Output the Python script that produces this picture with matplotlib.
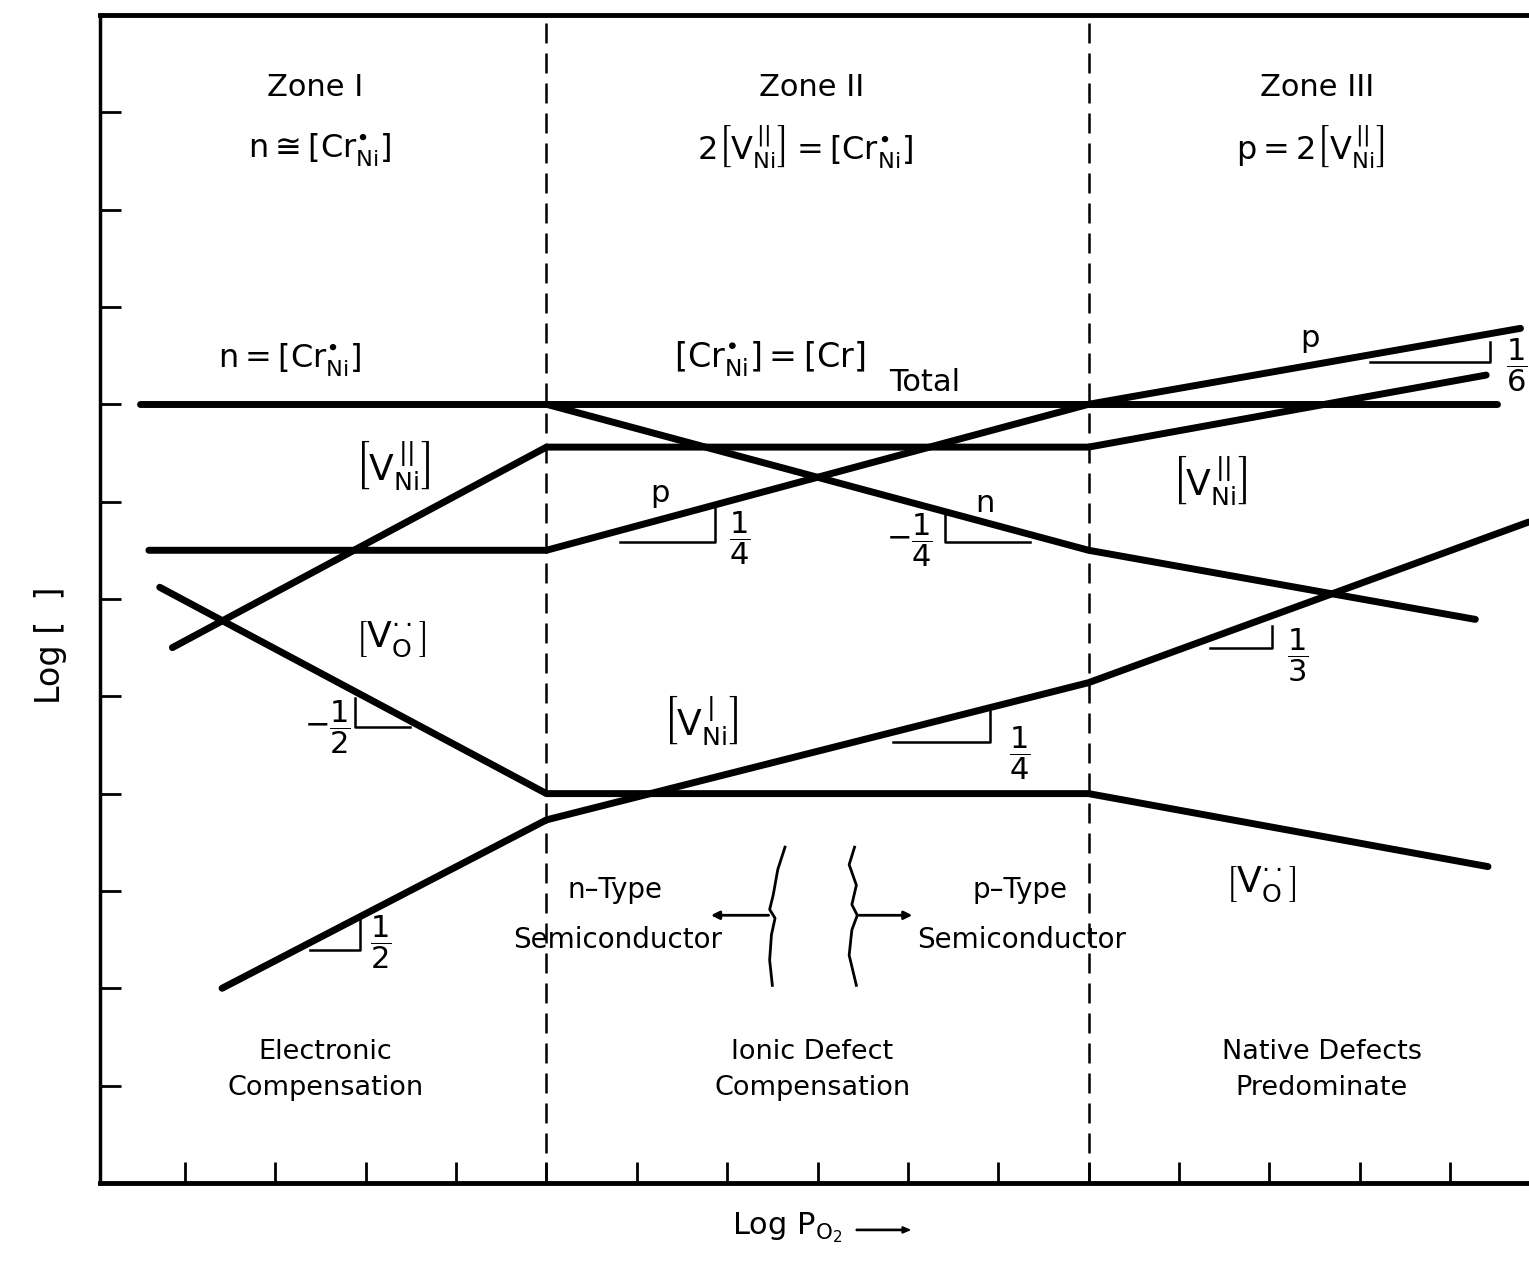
import numpy as np
import matplotlib
matplotlib.use("Agg")
import matplotlib.pyplot as plt

plt.rcParams['font.family'] = ['DejaVu Sans']
plt.rcParams['mathtext.default'] = 'regular'

# defect concentrations, log units vs log pO2 (zone edges at 5 and 11)
zone_edges = [5, 11]

cr_total_x = [0.50, 15.52]
cr_total_y = [8.0, 8.0]

v2ni_x = [0.86, 5.0, 11.0, 15.40]
v2ni_y = [5.50, 7.56, 7.56, 8.30]

p_x = [0.60, 5.0, 11.0, 15.78]
p_y = [6.50, 6.50, 8.00, 8.78]

n_x = [5.0, 11.0, 15.28]
n_y = [8.00, 6.50, 5.79]

vo_x = [0.72, 5.0, 11.0, 15.42]
vo_y = [6.12, 4.00, 4.00, 3.25]

v1ni_x = [1.41, 5.0, 11.0, 15.87]
v1ni_y = [2.00, 3.73, 5.14, 6.79]

# slope markers: (x points, y points, label, label x, label y)
slope_marks = [
    ([5.81, 6.87, 6.87], [6.58, 6.58, 6.93], r'$\dfrac{1}{4}$', 7.14, 6.62),
    ([9.41, 9.41, 10.35], [6.88, 6.58, 6.58], r'$-\dfrac{1}{4}$', 9.02, 6.60),
    ([2.88, 2.88, 3.49], [4.98, 4.68, 4.68], r'$-\dfrac{1}{2}$', 2.58, 4.68),
    ([2.38, 2.94, 2.94], [2.39, 2.39, 2.72], r'$\dfrac{1}{2}$', 3.17, 2.47),
    ([8.84, 9.91, 9.91], [4.53, 4.53, 4.86], r'$\dfrac{1}{4}$', 10.24, 4.42),
    ([12.34, 13.03, 13.03], [5.50, 5.50, 5.72], r'$\dfrac{1}{3}$', 13.31, 5.42),
    ([14.11, 15.44, 15.44], [8.43, 8.43, 8.64], r'$\dfrac{1}{6}$', 15.74, 8.40),
]

# wavy dividers between n-type and p-type
brace_l_x = [7.64, 7.56, 7.51, 7.47, 7.53, 7.49, 7.47, 7.50]
brace_l_y = [3.45, 3.22, 2.96, 2.81, 2.72, 2.55, 2.29, 2.03]
brace_r_x = [8.41, 8.35, 8.43, 8.38, 8.44, 8.38, 8.35, 8.43]
brace_r_y = [3.45, 3.27, 3.06, 2.86, 2.75, 2.60, 2.34, 2.03]

V2 = r'\left[V_{Ni}^{\,||}\right]'
V1 = r'\left[V_{Ni}^{\,|}\right]'
CR = r'\left[Cr_{Ni}^{\bullet}\right]'
VO = r'\left[V_{O}^{\cdot\cdot}\right]'

fig = plt.figure(figsize=(15.29, 12.66), dpi=100)
ax = fig.add_axes([0.0654, 0.0656, 0.9346, 0.9226])
ax.set_xlim(0.059, 15.874)
ax.set_ylim(0, 12.0)

lw = 5.0
for xs, ys in [(cr_total_x, cr_total_y), (v2ni_x, v2ni_y), (p_x, p_y),
               (n_x, n_y), (vo_x, vo_y), (v1ni_x, v1ni_y)]:
    ax.plot(xs, ys, color='black', lw=lw, solid_capstyle='round')

for xe in zone_edges:
    ax.axvline(xe, color='black', lw=1.8, dashes=(8, 4))

for xs, ys, lab, lx, ly in slope_marks:
    ax.plot(xs, ys, color='black', lw=1.8)
    ax.text(lx, ly, lab, fontsize=22, ha='center', va='center')

ax.plot(brace_l_x, brace_l_y, color='black', lw=2)
ax.plot(brace_r_x, brace_r_y, color='black', lw=2)
ax.annotate('', xy=(6.79, 2.75), xytext=(7.49, 2.75),
            arrowprops=dict(arrowstyle='-|>', color='black', lw=2, mutation_scale=12))
ax.annotate('', xy=(9.08, 2.75), xytext=(8.43, 2.75),
            arrowprops=dict(arrowstyle='-|>', color='black', lw=2, mutation_scale=12))

fs = 22
lab_fs = 26
# zone headers
ax.text(2.44, 11.25, 'Zone I', fontsize=fs, ha='center', va='center')
ax.text(2.49, 10.62, r'$n \cong ' + CR + '$', fontsize=23, ha='center', va='center')
ax.text(7.94, 11.25, 'Zone II', fontsize=fs, ha='center', va='center')
ax.text(7.86, 10.64, r'$2' + V2 + '=' + CR + '$', fontsize=23, ha='center', va='center')
ax.text(13.53, 11.25, 'Zone III', fontsize=fs, ha='center', va='center')
ax.text(13.45, 10.64, r'$p=2' + V2 + '$', fontsize=23, ha='center', va='center')

# curve labels
ax.text(2.16, 8.46, r'$n=' + CR + '$', fontsize=23, ha='center', va='center')
ax.text(7.47, 8.46, r'$' + CR + r'=\left[Cr\right]$', fontsize=24, ha='center', va='center')
ax.text(9.19, 8.22, 'Total', fontsize=fs, ha='center', va='center')
ax.text(3.30, 7.38, r'$' + V2 + '$', fontsize=lab_fs, ha='center', va='center')
ax.text(12.34, 7.22, r'$' + V2 + '$', fontsize=lab_fs, ha='center', va='center')
ax.text(6.26, 7.08, 'p', fontsize=fs, ha='center', va='center')
ax.text(9.85, 6.98, 'n', fontsize=fs, ha='center', va='center')
ax.text(13.45, 8.68, 'p', fontsize=fs, ha='center', va='center')
ax.text(3.27, 5.58, r'$' + VO + '$', fontsize=lab_fs, ha='center', va='center')
ax.text(6.70, 4.76, r'$' + V1 + '$', fontsize=lab_fs, ha='center', va='center')
ax.text(12.90, 3.06, r'$' + VO + '$', fontsize=lab_fs, ha='center', va='center')

ax.text(5.76, 3.01, 'n\u2013Type', fontsize=20, ha='center', va='center')
ax.text(5.79, 2.50, 'Semiconductor', fontsize=20, ha='center', va='center')
ax.text(10.24, 3.01, 'p\u2013Type', fontsize=20, ha='center', va='center')
ax.text(10.26, 2.50, 'Semiconductor', fontsize=20, ha='center', va='center')

ax.text(2.55, 1.16, 'Electronic\nCompensation', fontsize=19.5, ha='center', va='center',
        linespacing=1.5)
ax.text(7.94, 1.16, 'Ionic Defect\nCompensation', fontsize=19.5, ha='center', va='center',
        linespacing=1.5)
ax.text(13.58, 1.16, 'Native Defects\nPredominate', fontsize=19.5, ha='center', va='center',
        linespacing=1.5)

# axes frame and ticks
ax.spines['right'].set_visible(False)
ax.spines['top'].set_linewidth(3.5)
ax.spines['bottom'].set_linewidth(3.5)
ax.spines['left'].set_linewidth(2.5)
ax.set_xticks(np.arange(1, 16))
ax.set_yticks(np.arange(1, 12))
ax.tick_params(direction='in', length=15, width=2, labelbottom=False, labelleft=False)

fig.text(0.033, 0.49, 'Log [  ]', rotation=90, fontsize=24,
         ha='center', va='center')
fig.text(0.515, 0.03, r'Log P$_{O_2}$', fontsize=22, ha='center', va='center')
fig.patches.append(matplotlib.patches.FancyArrow(0.56, 0.0285, 0.035, 0, width=0.001,
                                                 head_width=0.005, head_length=0.005,
                                                 transform=fig.transFigure, color='black',
                                                 length_includes_head=True))

fig.savefig('out.png', dpi=100)
